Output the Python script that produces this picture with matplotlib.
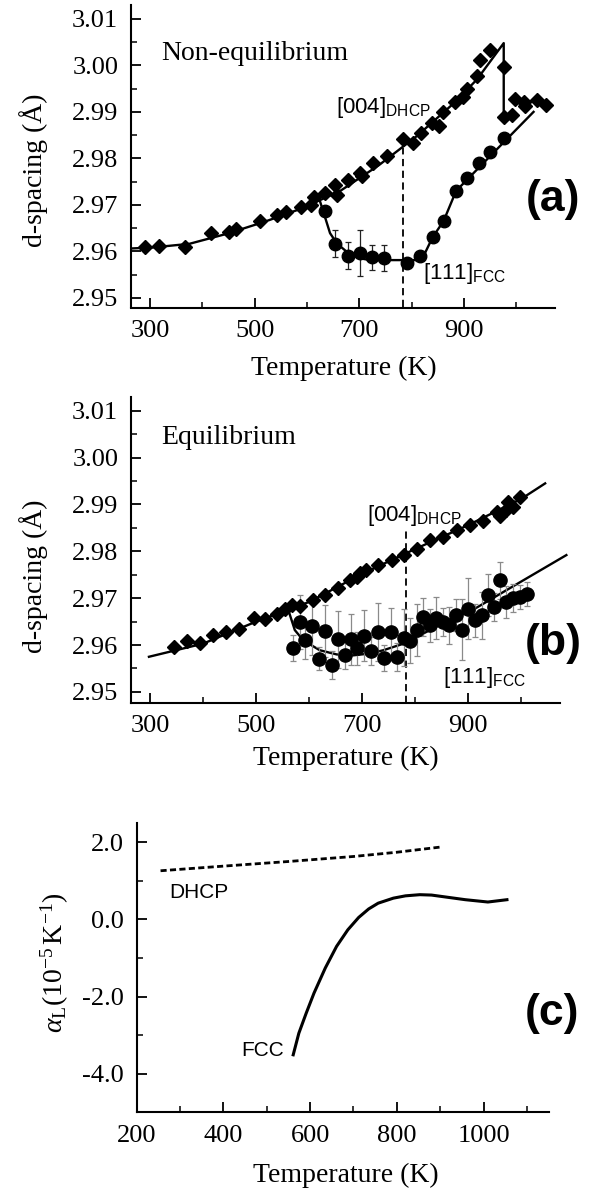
import matplotlib
matplotlib.use("Agg")
import matplotlib.pyplot as plt
from matplotlib.ticker import MultipleLocator, FormatStrFormatter

plt.rcParams['font.family'] = ['Liberation Serif', 'DejaVu Serif']
plt.rcParams['axes.unicode_minus'] = False
plt.rcParams['mathtext.fontset'] = 'custom'
plt.rcParams['mathtext.rm'] = 'Liberation Serif'
plt.rcParams['mathtext.it'] = 'Liberation Serif:italic'
plt.rcParams['mathtext.sf'] = 'Liberation Sans'
plt.rcParams['mathtext.bf'] = 'Liberation Serif:bold'

# ---------------- Panel (a): non-equilibrium ----------------
a_dhcp_T = [291, 317, 367, 417, 451, 464, 511, 542, 560, 589, 608, 613, 634, 654, 658,
            678, 701, 706, 726, 752, 784, 802, 817, 839, 853, 860, 882, 898, 905, 925,
            931, 949, 976, 976, 992, 998, 1014, 1016, 1040, 1056]
a_dhcp_d = [2.9610, 2.9612, 2.9610, 2.9639, 2.9641, 2.9647, 2.9665, 2.9678, 2.9685, 2.9695,
            2.9700, 2.9716, 2.9725, 2.9743, 2.9721, 2.9753, 2.9768, 2.9763, 2.9789, 2.9805,
            2.9841, 2.9832, 2.9854, 2.9877, 2.9870, 2.9900, 2.9922, 2.9933, 2.9949, 2.9978,
            3.0012, 3.0033, 2.9997, 2.9890, 2.9893, 2.9928, 2.9922, 2.9913, 2.9926, 2.9915]
a_dhcp_fit_T = [263, 303, 375, 448, 520, 592, 665, 737, 810, 882, 925, 976, 976]
a_dhcp_fit_d = [2.9606, 2.9608, 2.9616, 2.9638, 2.9664, 2.9693, 2.9731, 2.9785, 2.9848,
                2.9920, 2.9970, 3.0048, 2.9890]

a_fcc_T = [634, 654, 679, 701, 725, 747, 792, 816, 840, 861, 885, 906, 929, 950, 977]
a_fcc_d = [2.9687, 2.9616, 2.9590, 2.9596, 2.9587, 2.9585, 2.9574, 2.9590, 2.9630, 2.9665,
           2.9730, 2.9757, 2.9791, 2.9814, 2.9843]
a_fcc_err = [0.0006, 0.0029, 0.0029, 0.0050, 0.0027, 0.0028, 0.0, 0.0, 0.0, 0.0008,
             0.0, 0.0, 0.0, 0.0, 0.0]
a_fcc_fit_T = [625, 634, 644, 657, 679, 701, 720, 819, 840, 861, 885, 1033]
a_fcc_fit_d = [2.9707, 2.9675, 2.9639, 2.9617, 2.9596, 2.9585, 2.9581, 2.9581, 2.9630,
               2.9665, 2.9730, 2.9900]
a_transition_T = 784
a_transition_top = 2.9822

# ---------------- Panel (b): equilibrium ----------------
b_dhcp_T = [346, 369, 394, 419, 443, 467, 496, 516, 539, 555, 568, 583, 608, 630, 655,
            677, 690, 696, 708, 730, 756, 778, 803, 828, 853, 878, 903, 927, 954, 960,
            972, 975, 985, 998]
b_dhcp_d = [2.9596, 2.9609, 2.9605, 2.9621, 2.9627, 2.9635, 2.9658, 2.9655, 2.9667, 2.9678,
            2.9686, 2.9683, 2.9696, 2.9707, 2.9721, 2.9738, 2.9745, 2.9753, 2.9760, 2.9771,
            2.9782, 2.9792, 2.9806, 2.9824, 2.9831, 2.9845, 2.9856, 2.9865, 2.9884, 2.9876,
            2.9888, 2.9906, 2.9895, 2.9916]
b_dhcp_fit_T = [298, 400, 500, 600, 700, 800, 900, 1000, 1045]
b_dhcp_fit_d = [2.9575, 2.9603, 2.9650, 2.9692, 2.9752, 2.9805, 2.9856, 2.9912, 2.9945]

b_fcc_T = [569, 583, 592, 605, 619, 630, 643, 655, 668, 679, 691, 704, 717, 729, 742, 754,
           765, 779, 790, 803, 814, 827, 839, 852, 864, 876, 889, 900, 913, 925, 938, 949,
           960, 972, 985, 998, 1011]
b_fcc_d = [2.9593, 2.9649, 2.9610, 2.9640, 2.9571, 2.9630, 2.9557, 2.9612, 2.9578, 2.9612,
           2.9593, 2.9620, 2.9587, 2.9628, 2.9573, 2.9628, 2.9575, 2.9616, 2.9609, 2.9632,
           2.9660, 2.9642, 2.9657, 2.9650, 2.9642, 2.9664, 2.9633, 2.9678, 2.9653, 2.9664,
           2.9706, 2.9681, 2.9738, 2.9692, 2.9700, 2.9703, 2.9709]
b_fcc_err = [0.0028, 0.0058, 0.0040, 0.0062, 0.0025, 0.0055, 0.0030, 0.0060, 0.0030, 0.0055,
             0.0035, 0.0055, 0.0030, 0.0062, 0.0028, 0.0052, 0.0030, 0.0060, 0.0048, 0.0055,
             0.0040, 0.0035, 0.0045, 0.0030, 0.0040, 0.0035, 0.0065, 0.0065, 0.0035, 0.0050,
             0.0045, 0.0030, 0.0040, 0.0035, 0.0030, 0.0025, 0.0025]
b_fcc_fit_T = [561, 573, 589, 620, 652, 683, 715, 740, 778, 809, 840, 878, 913, 1085]
b_fcc_fit_d = [2.9674, 2.9632, 2.9610, 2.9589, 2.9580, 2.9578, 2.9582, 2.9589, 2.9603,
               2.9621, 2.9639, 2.9660, 2.9678, 2.9792]
b_transition_T = 783
b_transition_top = 2.9850

# ---------------- Panel (c): thermal expansion ----------------
c_dhcp_T = [255, 400, 550, 700, 800, 905]
c_dhcp_a = [1.26, 1.38, 1.50, 1.63, 1.74, 1.88]
c_fcc_T = [561, 574, 591, 609, 635, 661, 687, 712, 735, 757, 792, 820, 853, 880, 906, 958,
           1010, 1054]
c_fcc_a = [-3.51, -2.95, -2.43, -1.91, -1.26, -0.70, -0.27, 0.05, 0.27, 0.42, 0.55, 0.61,
           0.64, 0.63, 0.59, 0.51, 0.45, 0.51]

W, H = 594, 1192
fig = plt.figure(figsize=(W / 100, H / 100), dpi=100)


def rect(l, r, t, b):
    return [l / W, 1 - b / H, (r - l) / W, (b - t) / H]


def fx(px):
    return px / W


def fy(py):
    return 1 - py / H


TICK = 19
LAB = 20


def style(ax):
    for s in ['top', 'right']:
        ax.spines[s].set_visible(False)
    for s in ['left', 'bottom']:
        ax.spines[s].set_linewidth(1.5)
    ax.tick_params(which='major', direction='in', length=7, width=1.3, labelsize=TICK)
    ax.tick_params(which='minor', direction='in', length=4, width=1.1)
    ax.tick_params(axis='x', which='major', pad=9)
    ax.tick_params(axis='y', which='major', pad=9)


sans = 'Liberation Sans'

# ---- (a)
ax = fig.add_axes(rect(130.7, 555, 5, 307.5))
style(ax)
ax.set_xlim(263, 1074)
ax.set_ylim(2.9479, 3.013)
ax.set_xticks([300, 500, 700, 900])
ax.xaxis.set_minor_locator(MultipleLocator(100))
ax.yaxis.set_major_locator(MultipleLocator(0.01))
ax.yaxis.set_minor_locator(MultipleLocator(0.005))
ax.yaxis.set_major_formatter(FormatStrFormatter('%.2f'))
ax.plot(a_dhcp_fit_T, a_dhcp_fit_d, color='black', lw=1.7, zorder=2)
ax.plot(a_fcc_fit_T, a_fcc_fit_d, color='black', lw=1.7, zorder=2)
ax.errorbar(a_fcc_T, a_fcc_d, yerr=a_fcc_err, fmt='none', ecolor='#222222',
            elinewidth=0.9, capsize=2.5, capthick=0.9, zorder=3)
ax.plot(a_dhcp_T, a_dhcp_d, 'D', color='black', ms=7.3, zorder=4)
ax.plot(a_fcc_T, a_fcc_d, 'o', color='black', ms=9, zorder=4)
ax.plot([a_transition_T, a_transition_T], [2.9479, a_transition_top], color='black',
        lw=1.3, ls=(0, (4, 2.5)), zorder=1)
ax.text(655, 2.9910, r'$\mathsf{[004]}_{\mathsf{DHCP}}$', fontsize=16, ha='left', va='center')
ax.text(822, 2.9553, r'$\mathsf{[111]}_{\mathsf{FCC}}$', fontsize=16, ha='left', va='center')
fig.text(fx(161), fy(53), 'Non-equilibrium', fontsize=LAB, ha='left', va='center')
fig.text(fx(553), fy(199), '(a)', fontsize=32, fontweight='bold', family=sans,
         ha='center', va='center')
fig.text(fx(344), fy(368), 'Temperature (K)', fontsize=LAB, ha='center', va='center')
fig.text(fx(34), fy(170), 'd-spacing (Å)', fontsize=LAB, ha='center', va='center',
         rotation=90)

# ---- (b)
ax = fig.add_axes(rect(130.7, 560, 396.7, 702.7))
style(ax)
ax.set_xlim(263.6, 1073)
ax.set_ylim(2.9477, 3.013)
ax.set_xticks([300, 500, 700, 900])
ax.xaxis.set_minor_locator(MultipleLocator(100))
ax.yaxis.set_major_locator(MultipleLocator(0.01))
ax.yaxis.set_minor_locator(MultipleLocator(0.005))
ax.yaxis.set_major_formatter(FormatStrFormatter('%.2f'))
ax.plot(b_dhcp_fit_T, b_dhcp_fit_d, color='black', lw=1.7, zorder=2)
ax.plot(b_fcc_fit_T, b_fcc_fit_d, color='black', lw=1.7, zorder=2, clip_on=False)
ax.errorbar(b_fcc_T, b_fcc_d, yerr=b_fcc_err, fmt='none', ecolor='#8a8a8a',
            elinewidth=0.9, capsize=2.5, capthick=0.9, zorder=3)
ax.plot(b_dhcp_T, b_dhcp_d, 'D', color='black', ms=7.5, zorder=4)
ax.plot(b_fcc_T, b_fcc_d, 'o', color='black', ms=9.5, zorder=4)
ax.plot([b_transition_T, b_transition_T], [2.9477, b_transition_top], color='black',
        lw=1.3, ls=(0, (4, 2.5)), zorder=1)
ax.text(709, 2.9876, r'$\mathsf{[004]}_{\mathsf{DHCP}}$', fontsize=16, ha='left', va='center')
ax.text(853, 2.9531, r'$\mathsf{[111]}_{\mathsf{FCC}}$', fontsize=16, ha='left', va='center')
fig.text(fx(161), fy(437), 'Equilibrium', fontsize=LAB, ha='left', va='center')
fig.text(fx(553), fy(643), '(b)', fontsize=32, fontweight='bold', family=sans,
         ha='center', va='center')
fig.text(fx(346), fy(758), 'Temperature (K)', fontsize=LAB, ha='center', va='center')
fig.text(fx(34), fy(576), 'd-spacing (Å)', fontsize=LAB, ha='center', va='center',
         rotation=90)

# ---- (c)
ax = fig.add_axes(rect(136.7, 549, 823.3, 1112.3))
style(ax)
ax.set_xlim(200, 1151)
ax.set_ylim(-5.0, 2.49)
ax.xaxis.set_major_locator(MultipleLocator(200))
ax.xaxis.set_minor_locator(MultipleLocator(100))
ax.set_yticks([2.0, 0.0, -2.0, -4.0])
ax.yaxis.set_minor_locator(MultipleLocator(1.0))
ax.yaxis.set_major_formatter(FormatStrFormatter('%.1f'))
ax.plot(c_dhcp_T, c_dhcp_a, color='black', lw=2.0, ls=(0, (2.2, 1.2)))
ax.plot(c_fcc_T, c_fcc_a, color='black', lw=2.2)
fig.text(fx(169), fy(893), 'DHCP', fontsize=15, family=sans, ha='left', va='center')
fig.text(fx(241), fy(1050), 'FCC', fontsize=15, family=sans, ha='left', va='center')
fig.text(fx(552), fy(1013), '(c)', fontsize=32, fontweight='bold', family=sans,
         ha='center', va='center')
fig.text(fx(346), fy(1175), 'Temperature (K)', fontsize=LAB, ha='center', va='center')
fig.text(fx(55), fy(963), r'$\alpha_{\mathrm{L}}(10^{-5}\,\mathrm{K}^{-1})$', fontsize=LAB,
         ha='center', va='center', rotation=90)

fig.savefig('out.png', dpi=100)
